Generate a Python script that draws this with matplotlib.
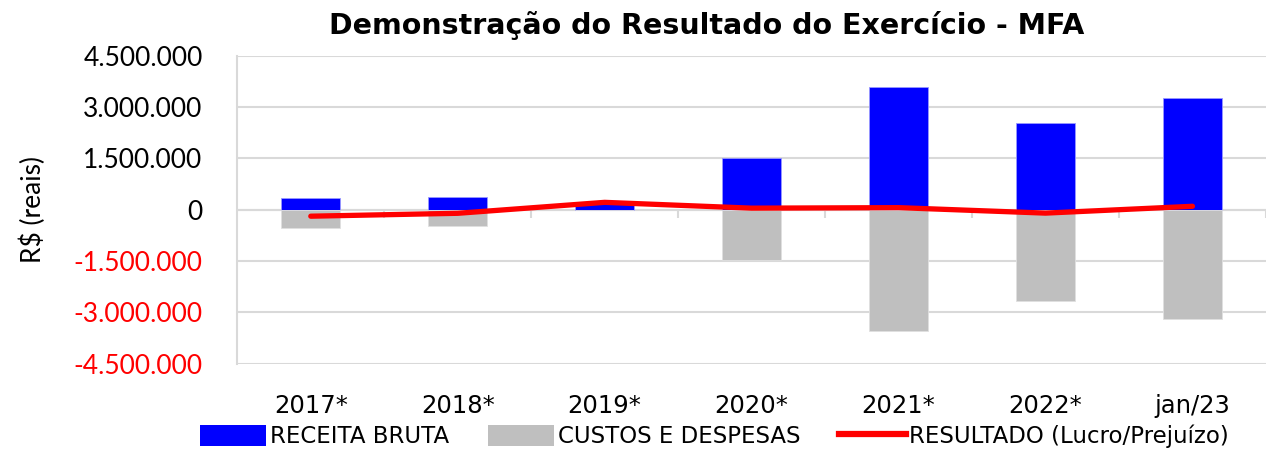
import matplotlib
matplotlib.use("Agg")
import matplotlib.pyplot as plt
from matplotlib.lines import Line2D
from matplotlib.patches import Patch

categories = ["2017*", "2018*", "2019*", "2020*", "2021*", "2022*", "jan/23"]
receita = [340000, 370000, 200000, 1510000, 3580000, 2540000, 3270000]
custos = [-530000, -480000, -20000, -1470000, -3550000, -2660000, -3190000]
resultado = [-190000, -105000, 215000, 45000, 60000, -100000, 100000]
yticks = [-4500000, -3000000, -1500000, 0, 1500000, 3000000, 4500000]

def fmt(v):
    s = f"{abs(v):,}".replace(",", ".")
    return ("-" if v < 0 else "") + s

plt.rcParams['font.family'] = ['Lato', 'DejaVu Sans']

fig = plt.figure(figsize=(12.69, 4.5), dpi=100)
ax = fig.add_axes([0.187, 0.192, 0.8106, 0.684])

x = list(range(len(categories)))
ax.bar(x, receita, width=0.4, color="#0000FF", edgecolor="#9999ff", linewidth=0.6, zorder=2)
ax.bar(x, custos, width=0.4, color="#BFBFBF", edgecolor="#e0e0e0", linewidth=0.6, zorder=2)
ax.plot(x, resultado, color="#FF0000", linewidth=3.8, solid_capstyle="round", zorder=3)

ax.set_xlim(-0.5, len(categories) - 0.5)
ax.set_ylim(yticks[0], yticks[-1])
ax.set_yticks(yticks)
ax.set_yticklabels([fmt(v) for v in yticks], fontsize=19)
for lbl, v in zip(ax.get_yticklabels(), yticks):
    lbl.set_color("#FF0000" if v < 0 else "black")
ax.tick_params(axis="y", length=0, pad=25)
ax.grid(axis="y", color="#d9d9d9", linewidth=1.5, zorder=0)
ax.set_axisbelow(True)

ax.set_xticks(x)
ax.set_xticklabels(categories, fontsize=17.5, family=['DejaVu Sans', 'Lato'])
ax.tick_params(axis="x", length=0, pad=22)

for side in ["top", "right", "bottom"]:
    ax.spines[side].set_visible(False)
ax.spines["left"].set_color("#d9d9d9")
ax.spines["left"].set_linewidth(1.5)

# category-boundary tick marks on the zero line
bounds = [k + 0.5 for k in x]
ax.vlines(bounds, -240000, 0, color="#d9d9d9", linewidth=1.5, zorder=1)
ax.axhline(0, color="#d9d9d9", linewidth=1.5, zorder=1)

ax.set_ylabel("R$ (reais)", fontsize=19, labelpad=20)

fig.suptitle("Demonstração do Resultado do Exercício - MFA", x=0.557, y=0.975,
             fontsize=20.5, fontweight="bold", family=['DejaVu Sans', 'Lato'])

handles = [Patch(facecolor="#0000FF", edgecolor="none"),
           Patch(facecolor="#BFBFBF", edgecolor="none"),
           Line2D([0], [0], color="#FF0000", linewidth=4.5)]
labels = ["RECEITA BRUTA", "CUSTOS E DESPESAS", "RESULTADO (Lucro/Prejuízo)"]
leg = fig.legend(handles, labels, loc="center", bbox_to_anchor=(0.563, 0.03), ncol=3,
                 frameon=False, handlelength=2.9, handleheight=1.0, handletextpad=0.15,
                 columnspacing=1.7, prop={"family": ['DejaVu Sans', 'Lato'], "size": 16.5})

fig.savefig("out.png", dpi=100)
